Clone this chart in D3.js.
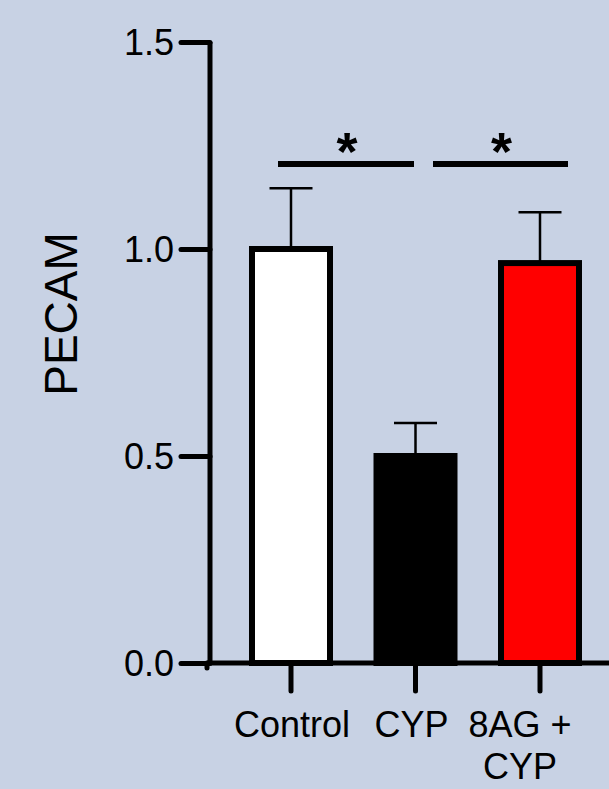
<!DOCTYPE html>
<html><head><meta charset="utf-8">
<script src="https://cdn.jsdelivr.net/npm/d3@7"></script>
<style>html,body{margin:0;padding:0;background:#c8d2e4;}svg{display:block;}</style>
</head><body>
<script>
const categories = ["Control", "CYP", "8AG +\nCYP"];
const means = [1.0, 0.5, 0.966];
const errors = [0.147, 0.08, 0.123];
const fills = ["#ffffff", "#000000", "#ff0000"];
const yTicks = [0.0, 0.5, 1.0, 1.5];
const sigPairs = [[0, 1], [1, 2]];
const sigLabels = ["*", "*"];

const W = 609, H = 789;
const FONT = "Liberation Sans, Arial, sans-serif";
const svg = d3.select("body").append("svg").attr("width", W).attr("height", H);
svg.append("rect").attr("width", W).attr("height", H).attr("fill", "#c8d2e4");

const y = d3.scaleLinear().domain([0, 1.5]).range([663, 42]);
const x = d3.scalePoint().domain(categories).range([291, 540]);
const barW = 78;
const labelShift = [1, -4, -20];

// bars
svg.selectAll("rect.bar").data(categories).enter().append("rect")
  .attr("class", "bar")
  .attr("x", d => x(d) - barW / 2)
  .attr("y", (d, i) => y(means[i]))
  .attr("width", barW)
  .attr("height", (d, i) => y(0) - y(means[i]))
  .attr("fill", (d, i) => fills[i])
  .attr("stroke", "#000").attr("stroke-width", 6);

// error bars
const eg = svg.append("g").attr("stroke", "#000").attr("stroke-width", 2.5);
categories.forEach((c, i) => {
  eg.append("line").attr("x1", x(c)).attr("x2", x(c))
    .attr("y1", y(means[i])).attr("y2", y(means[i] + errors[i]));
  eg.append("line").attr("x1", x(c) - 21.5).attr("x2", x(c) + 21.5)
    .attr("y1", y(means[i] + errors[i])).attr("y2", y(means[i] + errors[i]));
});

// y axis
const yAxis = d3.axisLeft(y).tickValues(yTicks).tickFormat(d3.format(".1f")).tickSize(29).tickPadding(7);
const yg = svg.append("g").attr("transform", "translate(210,0)").call(yAxis);
yg.select(".domain").attr("stroke-width", 5).attr("d", `M0,${y(1.5)}V${y(0)}`);
yg.selectAll(".tick line").attr("stroke-width", 5).attr("stroke-linecap", "round");
yg.selectAll(".tick text").attr("font-family", FONT).attr("font-size", 36).attr("fill", "#000").attr("dy", "0.35em");

// x axis
const xg = svg.append("g").attr("transform", `translate(0,${y(0)})`);
xg.append("line").attr("x1", 207).attr("x2", W + 5).attr("y1", 0).attr("y2", 0)
  .attr("stroke", "#000").attr("stroke-width", 5);
xg.append("line").attr("x1", 207).attr("x2", 207).attr("y1", 0).attr("y2", 5)
  .attr("stroke", "#000").attr("stroke-width", 5).attr("stroke-linecap", "round");
xg.selectAll("line.xt").data(categories).enter().append("line")
  .attr("class", "xt")
  .attr("x1", d => x(d)).attr("x2", d => x(d))
  .attr("y1", 0).attr("y2", 28)
  .attr("stroke", "#000").attr("stroke-width", 5).attr("stroke-linecap", "round");
const xl = xg.selectAll("text.xl").data(categories).enter().append("text")
  .attr("class", "xl")
  .attr("text-anchor", "middle")
  .attr("font-family", FONT).attr("font-size", 36)
  .attr("fill", "#000")
  .attr("transform", (d, i) => `translate(${x(d) + labelShift[i]},74)`);
xl.each(function(d) {
  const lines = d.split("\n");
  d3.select(this).selectAll("tspan").data(lines).enter().append("tspan")
    .attr("x", 0).attr("dy", (l, j) => j === 0 ? 0 : 42).text(l => l);
});

// y label
svg.append("text").attr("transform", "translate(77,314) rotate(-90)")
  .attr("text-anchor", "middle")
  .attr("font-family", FONT).attr("font-size", 46)
  .attr("fill", "#000").text("PECAM");

// significance
const sigY = 164;
const sigExt = [[278, 414], [433, 568]];
sigPairs.forEach((p, i) => {
  svg.append("line").attr("x1", sigExt[i][0]).attr("x2", sigExt[i][1])
    .attr("y1", sigY).attr("y2", sigY).attr("stroke", "#000").attr("stroke-width", 6);
  svg.append("text").attr("x", (sigExt[i][0] + sigExt[i][1]) / 2 + 1).attr("y", 170)
    .attr("text-anchor", "middle")
    .attr("font-family", FONT).attr("font-weight", "bold")
    .attr("font-size", 54).attr("fill", "#000").text(sigLabels[i]);
});
</script>
</body></html>
